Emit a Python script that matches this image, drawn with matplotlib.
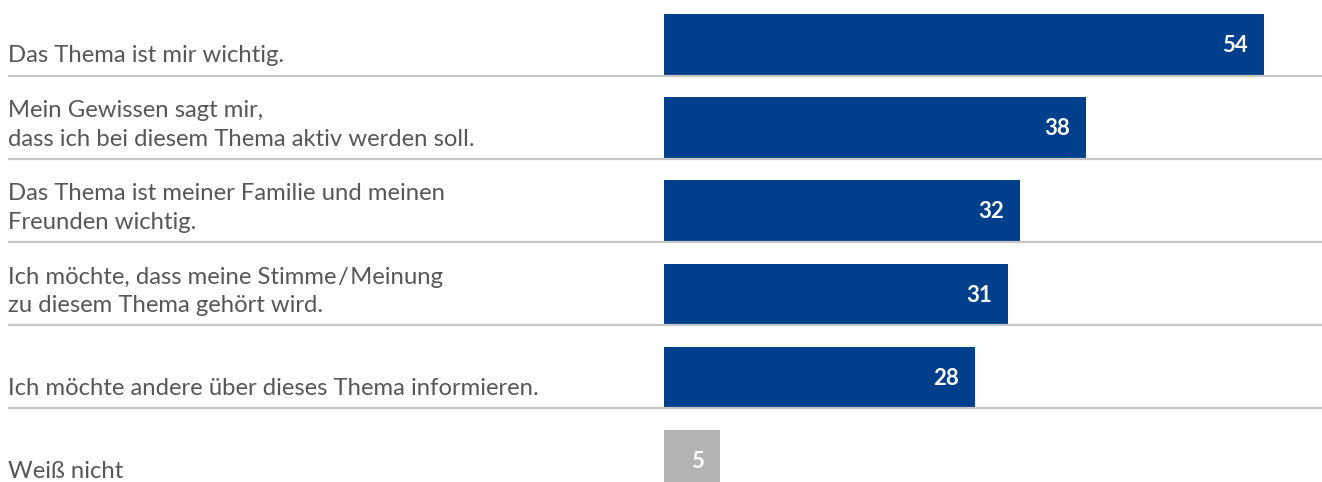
import matplotlib.pyplot as plt

plt.rcParams['font.family'] = ['Lato', 'DejaVu Sans']

labels = [
    "Das Thema ist mir wichtig.",
    "Mein Gewissen sagt mir,\ndass ich bei diesem Thema aktiv werden soll.",
    "Das Thema ist meiner Familie und meinen\nFreunden wichtig.",
    "Ich möchte, dass meine Stimme\u200a/\u200aMeinung\nzu diesem Thema gehört wird.",
    "Ich möchte andere über dieses Thema informieren.",
    "Weiß nicht",
]
values = [54, 38, 32, 31, 28, 5]
bar_colors = ["#003f8c"] * 5 + ["#b3b3b3"]

W, H = 1322, 482
PX_PER_UNIT = 600 / 54      # bar length scale
BAR_X0 = 664                # where the bars start (px)
ROW_H = 83.2
BAR_H = 61
TOP = 14

fig = plt.figure(figsize=(W / 100, H / 100), dpi=100)
ax = fig.add_axes([0, 0, 1, 1])
ax.set_xlim(-BAR_X0 / PX_PER_UNIT, (W - BAR_X0) / PX_PER_UNIT)
ax.set_ylim(H, 0)
ax.axis("off")

label_x = (8 - BAR_X0) / PX_PER_UNIT
for i, (lab, val, col) in enumerate(zip(labels, values, bar_colors)):
    center = TOP + BAR_H / 2 + i * ROW_H
    bottom = center + BAR_H / 2
    ax.barh(center, val, height=BAR_H, left=0, color=col, linewidth=0)
    ax.hlines(bottom + 0.5, label_x, ax.get_xlim()[1], color="#c6c6c6", lw=1.6)

    # label lines, last line's baseline sits a fixed gap above the rule
    lines = lab.split("\n")
    for j, line in enumerate(reversed(lines)):
        ax.text(label_x, bottom - 12.5 - j * 28.5, line, ha="left", va="baseline",
                fontsize=17.2, color="#575757")

    ax.text(val - 16 / PX_PER_UNIT, center + 1, str(val), ha="right", va="center",
            fontsize=16, fontweight="bold", color="white")

fig.savefig("out.png", dpi=100)
